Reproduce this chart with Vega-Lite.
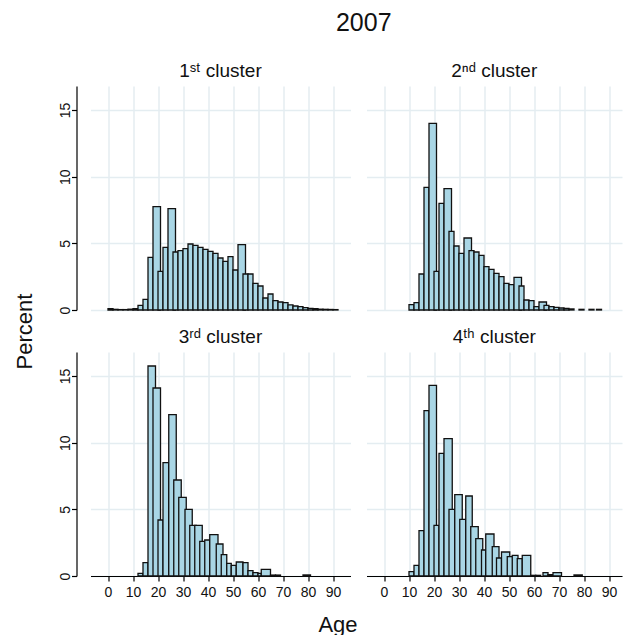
{
  "$schema": "https://vega.github.io/schema/vega-lite/v6.json",
  "background": "white",
  "padding": {"left": 13.5, "top": 11, "right": 0, "bottom": 0},
  "title": {"text": "2007", "fontSize": 25, "anchor": "middle", "offset": 26, "dx": 46},
  "data": {"values": [
    {"c":1,"lo":0,"hi":2,"pct":0.1},{"c":1,"lo":2,"hi":4,"pct":0.05},{"c":1,"lo":4,"hi":6,"pct":0.03},{"c":1,"lo":6,"hi":8,"pct":0.03},{"c":1,"lo":8,"hi":10,"pct":0.06},{"c":1,"lo":10,"hi":12,"pct":0.1},{"c":1,"lo":12,"hi":14,"pct":0.35},{"c":1,"lo":14,"hi":16,"pct":0.8},{"c":1,"lo":16,"hi":18,"pct":3.95},{"c":1,"lo":18,"hi":21,"pct":7.75},{"c":1,"lo":20,"hi":22,"pct":2.9},{"c":1,"lo":22,"hi":24,"pct":4.7},{"c":1,"lo":24,"hi":27,"pct":7.6},{"c":1,"lo":26,"hi":28,"pct":4.35},{"c":1,"lo":28,"hi":30,"pct":4.45},{"c":1,"lo":30,"hi":32,"pct":4.6},{"c":1,"lo":32,"hi":34,"pct":4.95},{"c":1,"lo":34,"hi":36,"pct":4.85},{"c":1,"lo":36,"hi":38,"pct":4.7},{"c":1,"lo":38,"hi":40,"pct":4.55},{"c":1,"lo":40,"hi":42,"pct":4.4},{"c":1,"lo":42,"hi":44,"pct":4.25},{"c":1,"lo":44,"hi":46,"pct":3.9},{"c":1,"lo":46,"hi":48,"pct":3.65},{"c":1,"lo":48,"hi":50,"pct":4.0},{"c":1,"lo":50,"hi":52,"pct":3.0},{"c":1,"lo":52,"hi":55,"pct":4.9},{"c":1,"lo":54,"hi":56,"pct":2.7},{"c":1,"lo":56,"hi":58,"pct":2.7},{"c":1,"lo":58,"hi":60,"pct":2.0},{"c":1,"lo":60,"hi":62,"pct":1.8},{"c":1,"lo":62,"hi":64,"pct":0.9},{"c":1,"lo":64,"hi":66,"pct":1.2},{"c":1,"lo":66,"hi":68,"pct":0.7},{"c":1,"lo":68,"hi":70,"pct":0.6},{"c":1,"lo":70,"hi":72,"pct":0.55},{"c":1,"lo":72,"hi":74,"pct":0.38},{"c":1,"lo":74,"hi":76,"pct":0.3},{"c":1,"lo":76,"hi":78,"pct":0.25},{"c":1,"lo":78,"hi":80,"pct":0.18},{"c":1,"lo":80,"hi":82,"pct":0.12},{"c":1,"lo":82,"hi":84,"pct":0.1},{"c":1,"lo":84,"hi":86,"pct":0.06},{"c":1,"lo":86,"hi":88,"pct":0.05},{"c":1,"lo":88,"hi":90,"pct":0.04},{"c":1,"lo":90,"hi":92,"pct":0.03},
    {"c":2,"lo":10,"hi":12,"pct":0.4},{"c":2,"lo":12,"hi":14,"pct":0.55},{"c":2,"lo":14,"hi":16,"pct":2.7},{"c":2,"lo":16,"hi":18,"pct":9.2},{"c":2,"lo":18,"hi":21,"pct":14.0},{"c":2,"lo":20,"hi":22,"pct":2.9},{"c":2,"lo":22,"hi":24,"pct":8.0},{"c":2,"lo":24,"hi":27,"pct":9.1},{"c":2,"lo":26,"hi":28,"pct":5.9},{"c":2,"lo":28,"hi":30,"pct":4.8},{"c":2,"lo":30,"hi":32,"pct":4.25},{"c":2,"lo":32,"hi":35,"pct":5.4},{"c":2,"lo":34,"hi":36,"pct":4.45},{"c":2,"lo":36,"hi":38,"pct":4.35},{"c":2,"lo":38,"hi":40,"pct":4.1},{"c":2,"lo":40,"hi":42,"pct":3.25},{"c":2,"lo":42,"hi":44,"pct":3.05},{"c":2,"lo":44,"hi":46,"pct":2.75},{"c":2,"lo":46,"hi":48,"pct":2.5},{"c":2,"lo":48,"hi":50,"pct":2.0},{"c":2,"lo":50,"hi":52,"pct":1.9},{"c":2,"lo":52,"hi":55,"pct":2.45},{"c":2,"lo":54,"hi":56,"pct":1.8},{"c":2,"lo":56,"hi":58,"pct":0.75},{"c":2,"lo":58,"hi":60,"pct":0.7},{"c":2,"lo":60,"hi":62,"pct":0.25},{"c":2,"lo":62,"hi":65,"pct":0.6},{"c":2,"lo":64,"hi":66,"pct":0.35},{"c":2,"lo":66,"hi":68,"pct":0.25},{"c":2,"lo":68,"hi":70,"pct":0.2},{"c":2,"lo":70,"hi":72,"pct":0.15},{"c":2,"lo":72,"hi":74,"pct":0.12},{"c":2,"lo":74,"hi":76,"pct":0.08},{"c":2,"lo":78,"hi":80,"pct":0.05},{"c":2,"lo":82,"hi":84,"pct":0.05},{"c":2,"lo":85,"hi":87,"pct":0.05},
    {"c":3,"lo":12,"hi":14,"pct":0.2},{"c":3,"lo":14,"hi":16,"pct":1.0},{"c":3,"lo":16,"hi":19,"pct":15.75},{"c":3,"lo":18,"hi":21,"pct":14.1},{"c":3,"lo":20,"hi":22,"pct":4.2},{"c":3,"lo":22,"hi":24.3,"pct":8.5},{"c":3,"lo":24.3,"hi":27.3,"pct":12.1},{"c":3,"lo":26.3,"hi":29.3,"pct":7.2},{"c":3,"lo":28.3,"hi":31.3,"pct":5.9},{"c":3,"lo":30.8,"hi":33.7,"pct":5.0},{"c":3,"lo":32.7,"hi":35.3,"pct":3.8},{"c":3,"lo":34.7,"hi":37.7,"pct":3.8},{"c":3,"lo":36.7,"hi":39,"pct":2.6},{"c":3,"lo":38.7,"hi":40.7,"pct":2.7},{"c":3,"lo":40.7,"hi":44,"pct":3.1},{"c":3,"lo":43.3,"hi":46,"pct":2.4},{"c":3,"lo":45.3,"hi":47.5,"pct":1.6},{"c":3,"lo":47.5,"hi":49.3,"pct":0.95},{"c":3,"lo":49.3,"hi":51.3,"pct":0.8},{"c":3,"lo":51.3,"hi":54,"pct":1.05},{"c":3,"lo":54,"hi":56,"pct":1.0},{"c":3,"lo":56,"hi":58,"pct":0.4},{"c":3,"lo":58,"hi":60,"pct":0.25},{"c":3,"lo":60,"hi":61.3,"pct":0.2},{"c":3,"lo":61.3,"hi":65,"pct":0.5},{"c":3,"lo":65,"hi":67,"pct":0.07},{"c":3,"lo":67,"hi":69,"pct":0.07},{"c":3,"lo":78,"hi":81,"pct":0.08},
    {"c":4,"lo":10,"hi":12,"pct":0.33},{"c":4,"lo":12,"hi":14,"pct":0.8},{"c":4,"lo":14,"hi":16,"pct":3.4},{"c":4,"lo":16,"hi":18,"pct":12.4},{"c":4,"lo":18,"hi":21,"pct":14.3},{"c":4,"lo":20,"hi":22,"pct":3.8},{"c":4,"lo":22,"hi":24,"pct":9.2},{"c":4,"lo":24,"hi":27.3,"pct":10.3},{"c":4,"lo":26,"hi":28.3,"pct":5.0},{"c":4,"lo":28.3,"hi":31.3,"pct":6.1},{"c":4,"lo":30.3,"hi":32.7,"pct":4.25},{"c":4,"lo":32.7,"hi":35.3,"pct":6.0},{"c":4,"lo":34.7,"hi":37.7,"pct":3.7},{"c":4,"lo":36.7,"hi":39.5,"pct":2.8},{"c":4,"lo":39,"hi":40.7,"pct":1.95},{"c":4,"lo":40.7,"hi":44,"pct":3.15},{"c":4,"lo":43.3,"hi":46,"pct":2.2},{"c":4,"lo":45,"hi":47,"pct":1.35},{"c":4,"lo":47,"hi":50.3,"pct":1.8},{"c":4,"lo":49.3,"hi":51.6,"pct":1.45},{"c":4,"lo":51.3,"hi":53.6,"pct":1.55},{"c":4,"lo":53.3,"hi":55.3,"pct":1.3},{"c":4,"lo":55.3,"hi":58.7,"pct":1.55},{"c":4,"lo":58.7,"hi":60.7,"pct":0.05},{"c":4,"lo":60.7,"hi":62.7,"pct":0.05},{"c":4,"lo":63.6,"hi":65.6,"pct":0.25},{"c":4,"lo":65.6,"hi":67.6,"pct":0.1},{"c":4,"lo":67.6,"hi":71,"pct":0.25},{"c":4,"lo":76,"hi":79.3,"pct":0.08}
  ]},
  "columns": 2,
  "spacing": {"row": 42, "column": 16},
  "bounds": "flush",
  "concat": [
    {
      "title": {"text": "1ˢᵗ cluster", "fontSize": 19, "offset": 5},
      "width": 260, "height": 224,
      "transform": [{"filter": "datum.c == 1"}],
      "mark": {"type": "rect", "fill": "#a9d6e5", "stroke": "#111111", "strokeWidth": 1.3},
      "encoding": {
        "x": {"field": "lo", "type": "quantitative", "scale": {"domain": [-7, 97], "nice": false, "zero": false},
              "axis": {"values": [0,10,20,30,40,50,60,70,80,90], "labels": false, "ticks": false, "domain": false, "grid": true, "title": null}},
        "x2": {"field": "hi"},
        "y": {"field": "pct", "type": "quantitative", "scale": {"domain": [0, 16.8], "nice": false},
              "axis": {"values": [0,5,10,15], "grid": true, "offset": 14, "tickSize": 5, "labelAngle": -90, "labelAlign": "center", "labelBaseline": "bottom", "labelPadding": -1, "title": "Percent", "titleFontSize": 22, "titlePadding": 22, "titleY": 245}},
        "y2": {"datum": 0}
      }
    },
    {
      "title": {"text": "2ⁿᵈ cluster", "fontSize": 19, "offset": 5},
      "width": 255.5, "height": 224,
      "transform": [{"filter": "datum.c == 2"}],
      "mark": {"type": "rect", "fill": "#a9d6e5", "stroke": "#111111", "strokeWidth": 1.3},
      "encoding": {
        "x": {"field": "lo", "type": "quantitative", "scale": {"domain": [-7, 95.2], "nice": false, "zero": false},
              "axis": {"values": [0,10,20,30,40,50,60,70,80,90], "labels": false, "ticks": false, "domain": false, "grid": true, "title": null}},
        "x2": {"field": "hi"},
        "y": {"field": "pct", "type": "quantitative", "scale": {"domain": [0, 16.8], "nice": false},
              "axis": {"values": [0,5,10,15], "grid": true, "labels": false, "ticks": false, "domain": false, "title": null}},
        "y2": {"datum": 0}
      }
    },
    {
      "title": {"text": "3ʳᵈ cluster", "fontSize": 19, "offset": 5},
      "width": 260, "height": 224,
      "transform": [{"filter": "datum.c == 3"}],
      "mark": {"type": "rect", "fill": "#a9d6e5", "stroke": "#111111", "strokeWidth": 1.3},
      "encoding": {
        "x": {"field": "lo", "type": "quantitative", "scale": {"domain": [-7, 97], "nice": false, "zero": false},
              "axis": {"values": [0,10,20,30,40,50,60,70,80,90], "grid": true, "tickSize": 5, "labelPadding": 4, "title": "Age", "titleFontSize": 22, "titlePadding": 15, "titleX": 247}},
        "x2": {"field": "hi"},
        "y": {"field": "pct", "type": "quantitative", "scale": {"domain": [0, 16.8], "nice": false},
              "axis": {"values": [0,5,10,15], "grid": true, "offset": 14, "tickSize": 5, "labelAngle": -90, "labelAlign": "center", "labelBaseline": "bottom", "labelPadding": -1, "title": null}},
        "y2": {"datum": 0}
      }
    },
    {
      "title": {"text": "4ᵗʰ cluster", "fontSize": 19, "offset": 5},
      "width": 255.5, "height": 224,
      "transform": [{"filter": "datum.c == 4"}],
      "mark": {"type": "rect", "fill": "#a9d6e5", "stroke": "#111111", "strokeWidth": 1.3},
      "encoding": {
        "x": {"field": "lo", "type": "quantitative", "scale": {"domain": [-7, 95.2], "nice": false, "zero": false},
              "axis": {"values": [0,10,20,30,40,50,60,70,80,90], "grid": true, "tickSize": 5, "labelPadding": 4, "title": null}},
        "x2": {"field": "hi"},
        "y": {"field": "pct", "type": "quantitative", "scale": {"domain": [0, 16.8], "nice": false},
              "axis": {"values": [0,5,10,15], "grid": true, "labels": false, "ticks": false, "domain": false, "title": null}},
        "y2": {"datum": 0}
      }
    }
  ],
  "config": {
    "font": "Liberation Sans",
    "view": {"stroke": null},
    "axis": {"gridColor": "#e4edf1", "gridWidth": 1.5, "gridOpacity": 1, "domainColor": "#000000", "domainWidth": 1.2, "tickColor": "#000000", "tickWidth": 1.2, "labelColor": "#111111", "labelFontSize": 14, "labelFont": "Liberation Sans", "titleFont": "Liberation Sans", "titleFontWeight": "normal", "titleColor": "#111111"},
    "title": {"fontWeight": "normal", "font": "Liberation Sans", "color": "#111111"}
  }
}
